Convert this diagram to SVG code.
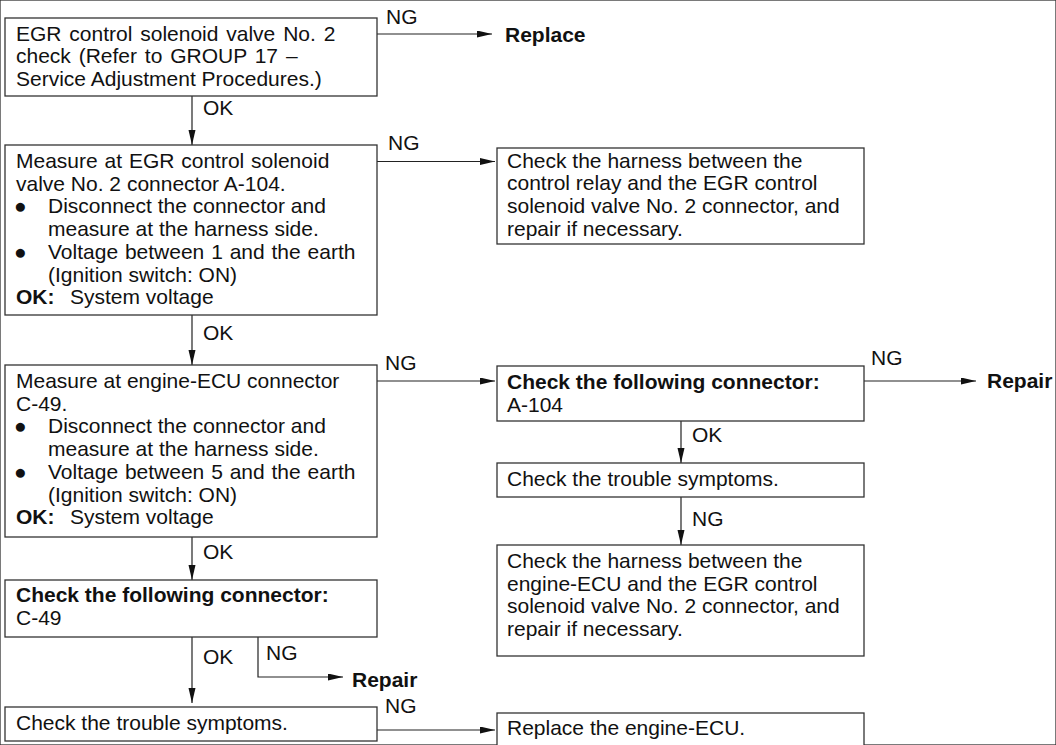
<svg xmlns="http://www.w3.org/2000/svg" width="1056" height="745" viewBox="0 0 1056 745">
<style>
text{font-family:"Liberation Sans",Arial,sans-serif;font-size:21px;fill:#111}
.b{font-weight:bold}
rect{fill:#fff;stroke:#333;stroke-width:1.3}
.c line,.c polyline{stroke:#222;stroke-width:1.2;fill:none}
</style>
<defs>
<marker id="ah" markerUnits="userSpaceOnUse" markerWidth="16" markerHeight="8" refX="15" refY="3.5" orient="auto">
<path d="M0,0 L15,3.5 L0,7 z" fill="#111"/>
</marker>
</defs>
<rect width="1056" height="745" fill="#fff" stroke="none"/>
<g class="c" id="connectors">
<line x1="377" y1="34" x2="492" y2="34" marker-end="url(#ah)"/>
<line x1="192" y1="96" x2="192" y2="145" marker-end="url(#ah)"/>
<line x1="377" y1="161.5" x2="495" y2="161.5" marker-end="url(#ah)"/>
<line x1="192" y1="315" x2="192" y2="365" marker-end="url(#ah)"/>
<line x1="377" y1="381" x2="495" y2="381" marker-end="url(#ah)"/>
<line x1="864" y1="381" x2="976" y2="381" marker-end="url(#ah)"/>
<line x1="681" y1="421" x2="681" y2="463" marker-end="url(#ah)"/>
<line x1="681" y1="497" x2="681" y2="545" marker-end="url(#ah)"/>
<line x1="192" y1="537" x2="192" y2="580" marker-end="url(#ah)"/>
<line x1="192" y1="637" x2="192" y2="703" marker-end="url(#ah)"/>
<polyline points="258,637 258,677 343,677" marker-end="url(#ah)"/>
<line x1="377" y1="730" x2="495" y2="730" marker-end="url(#ah)"/>
<text x="386" y="24">NG</text>
<text x="505" y="42" class="b">Replace</text>
<text x="203" y="115">OK</text>
<text x="388" y="150">NG</text>
<text x="203" y="340">OK</text>
<text x="385" y="370">NG</text>
<text x="871" y="365">NG</text>
<text x="987" y="388" class="b">Repair</text>
<text x="692" y="442">OK</text>
<text x="692" y="526">NG</text>
<text x="203" y="559">OK</text>
<text x="203" y="664">OK</text>
<text x="266" y="660">NG</text>
<text x="352" y="687" class="b">Repair</text>
<text x="385" y="713">NG</text>
</g>
<g id="n1">
<rect x="5" y="18" width="372" height="78"/>
<text x="16" y="40.5" word-spacing="2">EGR control solenoid valve No. 2</text>
<text x="16" y="63.2" word-spacing="2">check (Refer to GROUP 17 –</text>
<text x="16" y="86">Service Adjustment Procedures.)</text>
</g>
<g id="n2">
<rect x="5" y="145" width="372" height="170"/>
<text x="16" y="168" word-spacing="1">Measure at EGR control solenoid</text>
<text x="16" y="190.7">valve No. 2 connector A-104.</text>
<text x="14" y="213.4">●</text><text x="48" y="213.4">Disconnect the connector and</text>
<text x="48" y="236">measure at the harness side.</text>
<text x="14" y="258.8">●</text><text x="48" y="258.8" word-spacing="1">Voltage between 1 and the earth</text>
<text x="48" y="281.5">(Ignition switch: ON)</text>
<text x="16" y="304.2" class="b">OK:</text><text x="70" y="304.2">System voltage</text>
</g>
<g id="n3">
<rect x="497" y="148" width="367" height="96"/>
<text x="507" y="167.7">Check the harness between the</text>
<text x="507" y="190.4">control relay and the EGR control</text>
<text x="507" y="213">solenoid valve No. 2 connector, and</text>
<text x="507" y="235.8">repair if necessary.</text>
</g>
<g id="n4">
<rect x="5" y="365" width="372" height="172"/>
<text x="16" y="388">Measure at engine-ECU connector</text>
<text x="16" y="410.7">C-49.</text>
<text x="14" y="433.4">●</text><text x="48" y="433.4">Disconnect the connector and</text>
<text x="48" y="456">measure at the harness side.</text>
<text x="14" y="478.8">●</text><text x="48" y="478.8" word-spacing="1">Voltage between 5 and the earth</text>
<text x="48" y="501.5">(Ignition switch: ON)</text>
<text x="16" y="524.2" class="b">OK:</text><text x="70" y="524.2">System voltage</text>
</g>
<g id="n5">
<rect x="497" y="366" width="367" height="55"/>
<text x="507" y="389" class="b">Check the following connector:</text>
<text x="507" y="411.5">A-104</text>
</g>
<g id="n6">
<rect x="497" y="463" width="367" height="34"/>
<text x="507" y="486">Check the trouble symptoms.</text>
</g>
<g id="n7">
<rect x="497" y="545" width="367" height="111"/>
<text x="507" y="568">Check the harness between the</text>
<text x="507" y="590.7">engine-ECU and the EGR control</text>
<text x="507" y="613.4">solenoid valve No. 2 connector, and</text>
<text x="507" y="636">repair if necessary.</text>
</g>
<g id="n8">
<rect x="5" y="580" width="372" height="57"/>
<text x="16" y="602" class="b">Check the following connector:</text>
<text x="16" y="625">C-49</text>
</g>
<g id="n9">
<rect x="5" y="707" width="372" height="34"/>
<text x="16" y="730">Check the trouble symptoms.</text>
</g>
<g id="n10">
<rect x="497" y="713" width="367" height="50"/>
<text x="507" y="735">Replace the engine-ECU.</text>
</g>
</svg>
